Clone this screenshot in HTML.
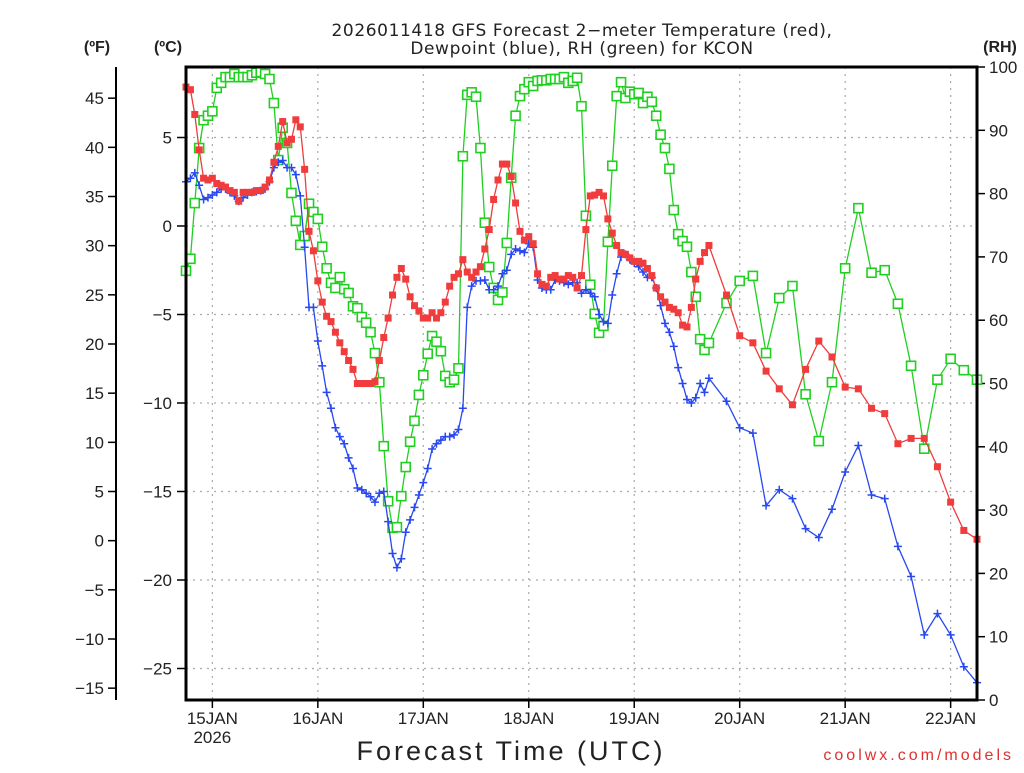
<!DOCTYPE html>
<html><head><meta charset="utf-8"><style>
body{margin:0;background:#fff;}
svg text{font-family:"Liberation Sans",sans-serif;fill:#222;}
</style></head><body>
<svg id="chart" width="1024" height="768" xmlns="http://www.w3.org/2000/svg">
<text x="582" y="36" font-size="17" text-anchor="middle" style="font-family:'DejaVu Sans',sans-serif" letter-spacing="0.6">2026011418 GFS Forecast 2−meter Temperature (red),</text>
<text x="582" y="54" font-size="17" text-anchor="middle" style="font-family:'DejaVu Sans',sans-serif" letter-spacing="0.6">Dewpoint (blue), RH (green) for KCON</text>
<text x="97" y="52" font-size="16" font-weight="bold" text-anchor="middle">(ºF)</text>
<text x="168" y="52" font-size="16" font-weight="bold" text-anchor="middle">(ºC)</text>
<text x="1000" y="52" font-size="16" font-weight="bold" text-anchor="middle">(RH)</text>
<text x="511" y="760" font-size="27" text-anchor="middle" letter-spacing="3">Forecast Time (UTC)</text>
<text x="1014" y="760" font-size="16" text-anchor="end" style="fill:#e03030" letter-spacing="3">coolwx.com/models</text>
<g id="grid"></g><g id="axes"></g><g id="series"></g>
<rect x="186" y="67" width="791" height="633" fill="none" stroke="#000" stroke-width="3"/>
</svg>
<script>
const tempHours=[0,1,2,3,4,5,6,7,8,9,10,11,12,13,14,15,16,17,18,19,20,21,22,23,24,25,26,27,28,29,30,31,32,33,34,35,36,37,38,39,40,41,42,43,44,45,46,47,48,49,50,51,52,53,54,55,56,57,58,59,60,61,62,63,64,65,66,67,68,69,70,71,72,73,74,75,76,77,78,79,80,81,82,83,84,85,86,87,88,89,90,91,92,93,94,95,96,97,98,99,100,101,102,103,104,105,106,107,108,109,110,111,112,113,114,115,116,117,118,119,123,126,129,132,135,138,141,144,147,150,153,156,159,162,165,168,171,174,177,180];
const tempC=[7.85,7.7,6.3,4.3,2.7,2.6,2.7,2.4,2.3,2.2,2.0,1.9,1.4,1.9,1.9,1.9,2.0,2.0,2.2,2.6,3.6,4.5,5.9,4.7,4.9,6.0,5.6,3.2,-0.3,-1.4,-3.1,-4.3,-5.1,-5.4,-6.0,-6.6,-7.1,-7.6,-8.1,-8.9,-8.9,-8.9,-8.9,-8.8,-7.6,-6.3,-5.2,-3.9,-2.9,-2.4,-3.0,-4.0,-4.5,-4.8,-5.2,-5.2,-4.9,-5.2,-4.9,-4.3,-3.4,-2.9,-2.7,-1.9,-2.6,-2.9,-2.6,-2.3,-1.3,-0.2,1.5,2.6,3.5,3.5,2.8,1.3,-0.3,-0.8,-0.6,-1.0,-2.7,-3.3,-3.4,-2.9,-2.8,-3.0,-3.0,-2.8,-2.9,-3.5,-2.8,-0.2,1.7,1.75,1.9,1.7,0.4,-0.4,-1.1,-1.5,-1.6,-1.8,-2.0,-2.0,-2.1,-2.4,-2.8,-3.5,-4.0,-4.3,-4.6,-4.7,-4.9,-5.6,-5.7,-4.6,-3.0,-2.0,-1.5,-1.1,-3.9,-6.2,-6.6,-8.2,-9.2,-10.1,-8.1,-6.5,-7.4,-9.1,-9.2,-10.3,-10.6,-12.3,-12.0,-12.0,-13.6,-15.6,-17.2,-17.7];
const dewHours=[0,1,2,3,4,5,6,7,8,9,10,11,12,13,14,15,16,17,18,19,20,21,22,23,24,25,26,27,28,29,30,31,32,33,34,35,36,37,38,39,40,41,42,43,44,45,46,47,48,49,50,51,52,53,54,55,56,57,58,59,60,61,62,63,64,65,66,67,68,69,70,71,72,73,74,75,76,77,78,79,80,81,82,83,84,85,86,87,88,89,90,91,92,93,94,95,96,97,98,99,100,101,102,103,104,105,106,107,108,109,110,111,112,113,114,115,116,117,118,119,123,126,129,132,135,138,141,144,147,150,153,156,159,162,165,168,171,174,177,180];
const dewC=[2.5,2.7,3.0,2.3,1.5,1.6,1.75,1.9,2.1,2.1,1.9,1.7,1.4,1.6,1.75,1.9,1.95,2.0,2.1,2.5,3.3,3.6,3.7,3.3,3.3,2.9,1.7,-1.2,-4.6,-4.6,-6.5,-7.9,-9.4,-10.3,-11.4,-11.9,-12.3,-13.1,-13.7,-14.8,-14.9,-15.1,-15.3,-15.6,-15.1,-15.0,-16.7,-18.5,-19.3,-18.8,-17.3,-16.6,-15.9,-15.2,-14.5,-13.7,-12.6,-12.3,-12.1,-11.9,-11.9,-11.8,-11.5,-10.3,-4.6,-3.4,-3.1,-3.1,-3.05,-3.6,-3.6,-3.4,-2.7,-2.5,-1.6,-1.3,-1.4,-1.5,-1.0,-1.2,-3.05,-3.5,-3.6,-3.6,-3.05,-3.1,-3.2,-3.3,-3.2,-3.2,-3.8,-3.6,-3.8,-4.0,-5.0,-5.4,-5.5,-3.9,-2.7,-1.75,-1.6,-1.9,-2.1,-2.3,-2.6,-2.9,-2.9,-3.5,-4.5,-5.5,-6.0,-6.8,-8.0,-8.9,-9.8,-10.0,-9.7,-8.9,-9.4,-8.6,-9.9,-11.4,-11.7,-15.8,-14.9,-15.4,-17.1,-17.6,-16.0,-13.9,-12.4,-15.2,-15.4,-18.1,-19.8,-23.1,-21.9,-23.1,-24.9,-25.8];
const rhHours=dewHours;
const rhPct=[67.8,69.7,78.5,87.2,91.6,92.3,93.0,96.7,97.5,98.4,98.4,98.9,98.4,98.4,98.4,98.7,99.1,99.2,98.9,98.1,94.3,85.3,90.4,88.0,80.1,75.7,71.9,73.3,78.4,77.1,76.0,71.6,68.2,65.9,65.1,66.8,64.9,64.3,62.2,61.9,60.5,59.6,58.1,54.8,50.2,40.1,31.4,27.2,27.3,32.2,36.8,40.8,44.1,48.2,51.3,54.7,57.5,56.6,55.1,51.2,50.2,50.6,52.4,85.9,95.6,96.0,95.3,87.2,75.4,68.4,65.1,63.2,64.4,72.2,82.5,92.3,95.4,96.5,97.6,97.0,97.8,97.9,97.9,98.1,98.1,98.1,98.4,97.5,97.8,98.3,93.8,76.5,65.6,61.0,58.0,59.1,72.4,84.4,95.4,97.6,95.1,96.1,95.7,95.9,94.3,95.3,94.5,92.3,89.3,87.2,83.9,77.4,73.6,72.5,71.6,67.6,63.7,57.0,55.3,56.4,62.7,66.2,67.0,54.8,63.5,65.4,48.3,40.9,50.2,68.2,77.7,67.5,67.9,62.6,52.8,39.7,50.6,53.9,52.1,50.6];
const dayLabels=["15JAN","16JAN","17JAN","18JAN","19JAN","20JAN","21JAN","22JAN"];
const cTicks=[5,0,-5,-10,-15,-20,-25];
const fTicks=[45,40,35,30,25,20,15,10,5,0,-5,-10,-15];
const rhTicks=[0,10,20,30,40,50,60,70,80,90,100];

const X0=186,PXH=791/180;
const xH=h=>X0+h*PXH;
const yC=c=>226-c*17.7;
const yF=f=>yC((f-32)*5/9);
const yRH=r=>700-r*6.33;
const NS="http://www.w3.org/2000/svg";
function mk(parent,tag,attrs){const e=document.createElementNS(NS,tag);for(const k in attrs)e.setAttribute(k,attrs[k]);parent.appendChild(e);return e;}
const grid=document.getElementById('grid'),axes=document.getElementById('axes'),ser=document.getElementById('series');
cTicks.forEach(c=>{const y=yC(c);
 const g=mk(grid,'line',{x1:186,x2:977,y1:y,y2:y,stroke:'#aaa','stroke-width':1.2,'stroke-dasharray':'2,5'});
 
 
 mk(axes,'line',{x1:177,x2:186,y1:y,y2:y,stroke:'#000','stroke-width':1.5});
 const t=mk(axes,'text',{x:172,y:y+6,'font-size':17,'text-anchor':'end'});t.textContent=(c<0?'−':'')+Math.abs(c);
 
 });
dayLabels.forEach((d,i)=>{const x=xH(6+24*i);
 const g=mk(grid,'line',{x1:x,x2:x,y1:67,y2:700,stroke:'#aaa','stroke-width':1.2,'stroke-dasharray':'2,5'});
 
 
 mk(axes,'line',{x1:x,x2:x,y1:700,y2:708,stroke:'#000','stroke-width':1.5});
 const t=mk(axes,'text',{x:x,y:724,'font-size':17,'text-anchor':'middle'});t.textContent=d;
 
 });
{const t=mk(axes,'text',{x:xH(6),y:743,'font-size':17,'text-anchor':'middle'});t.textContent='2026';
 
 }
const fl=mk(axes,'line',{x1:116,x2:116,y1:67,y2:700,stroke:'#000','stroke-width':2});


fTicks.forEach(f=>{const y=yF(f);
 mk(axes,'line',{x1:108,x2:116,y1:y,y2:y,stroke:'#000','stroke-width':1.5});
 const t=mk(axes,'text',{x:104,y:y+6,'font-size':17,'text-anchor':'end'});t.textContent=(f<0?'−':'')+Math.abs(f);
 
 });
rhTicks.forEach(r=>{const y=yRH(r);
 mk(axes,'line',{x1:977,x2:985,y1:y,y2:y,stroke:'#000','stroke-width':1.5});
 const t=mk(axes,'text',{x:989,y:y+6,'font-size':17,'text-anchor':'start'});t.textContent=r;
 
 });

function series(hours,vals,yf,color,name,marker){
 const g=mk(ser,'g',{});
 
 
 const pts=hours.map((h,i)=>xH(h).toFixed(1)+','+yf(vals[i]).toFixed(1)).join(' ');
 const pl=mk(g,'polyline',{points:pts,fill:'none',stroke:color,'stroke-width':1.3});
 
 
 hours.forEach((h,i)=>{const x=xH(h),y=yf(vals[i]);let m;
  if(marker==='fill')m=mk(g,'rect',{x:x-3.5,y:y-3.5,width:7,height:7,fill:color});
  else if(marker==='open')m=mk(g,'rect',{x:x-4.5,y:y-4.5,width:9,height:9,fill:'#fff',stroke:color,'stroke-width':1.6});
  else m=mk(g,'path',{d:`M${x-4},${y}H${x+4}M${x},${y-4}V${y+4}`,stroke:color,'stroke-width':1.5});
  
  });
}
series(rhHours,rhPct,yRH,'#20d020','rh','open');
series(dewHours,dewC,yC,'#2848f0','dewpoint','plus');
series(tempHours,tempC,yC,'#f03c3c','temperature','fill');
</script>
</body></html>
